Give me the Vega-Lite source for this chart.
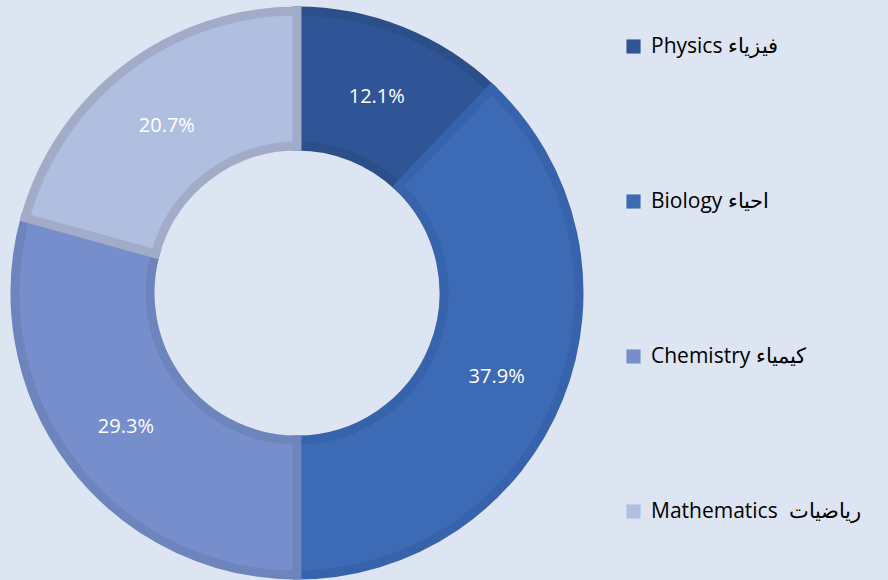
{
  "$schema": "https://vega.github.io/schema/vega-lite/v6.json",
  "width": 594,
  "height": 586,
  "autosize": {"type": "none"},
  "padding": {"left": 0, "top": 0, "right": 294, "bottom": 0},
  "background": "#dce5f1",
  "config": {"view": {"stroke": null}, "font": "Open Sans"},
  "data": {
    "values": [
      {"idx": 1, "subject": "Physics فيزياء", "value": 12.1, "label": "12.1%"},
      {"idx": 2, "subject": "Biology احياء", "value": 37.9, "label": "37.9%"},
      {"idx": 3, "subject": "Chemistry كيمياء", "value": 29.3, "label": "29.3%"},
      {"idx": 4, "subject": "Mathematics\u00a0 رياضيات", "value": 20.7, "label": "20.7%"}
    ]
  },
  "encoding": {
    "theta": {"field": "value", "type": "quantitative", "stack": true},
    "order": {"field": "idx", "type": "quantitative"}
  },
  "layer": [
    {
      "mark": {"type": "arc", "outerRadius": 282, "innerRadius": 147, "strokeWidth": 9, "strokeJoin": "miter"},
      "encoding": {
        "color": {
          "field": "subject",
          "type": "nominal",
          "scale": {
            "domain": ["Physics فيزياء", "Biology احياء", "Chemistry كيمياء", "Mathematics\u00a0 رياضيات"],
            "range": ["#2f5597", "#3d6ab5", "#768fcc", "#b0bfe0"]
          },
          "legend": {
            "title": null,
            "orient": "none",
            "legendX": 623,
            "legendY": 36,
            "symbolType": "square",
            "symbolSize": 200,
            "symbolStrokeWidth": 0,
            "symbolOpacity": 1,
            "labelFont": "Open Sans",
            "labelFontSize": 21,
            "labelColor": "#000000",
            "labelOffset": 7,
            "rowPadding": 133,
            "labelLimit": 300
          }
        },
        "stroke": {
          "field": "subject",
          "type": "nominal",
          "scale": {
            "domain": ["Physics فيزياء", "Biology احياء", "Chemistry كيمياء", "Mathematics\u00a0 رياضيات"],
            "range": ["#2c4f8a", "#3663ab", "#6d84bd", "#a2acc9"]
          },
          "legend": null
        }
      }
    },
    {
      "mark": {"type": "text", "radius": 215, "dy": 4, "fontSize": 20, "color": "#ffffff", "font": "Open Sans"},
      "encoding": {"text": {"field": "label"}}
    }
  ]
}
